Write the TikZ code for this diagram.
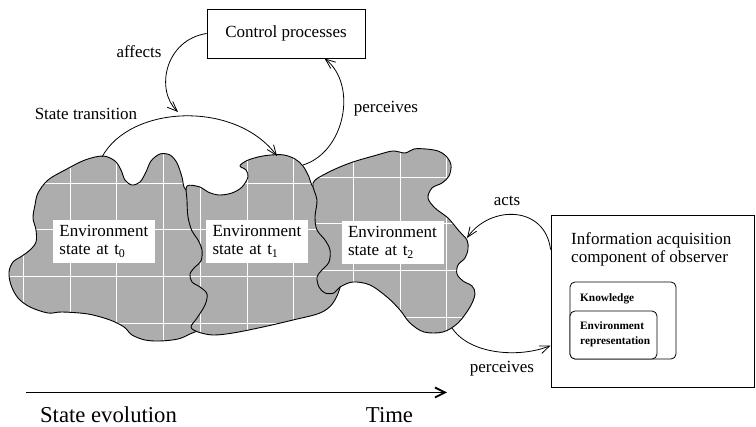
\documentclass[tikz,border=0pt]{standalone}
\usepackage{fontspec}
\setmainfont{Liberation Serif}
\usetikzlibrary{arrows.meta,calc}

% one environment state: grey fill, white grid, outline
% #1 = grid x offset, #2 = grid y offset, #3 = outline points
\newcommand\stateblob[3]{%
  \begin{scope}
    \clip plot[smooth cycle, tension=0.55] coordinates {#3};
    \fill[blobfill] (0,0) rectangle (756,427);
    \foreach \gx in {0,...,16}
      \draw[gridline] ({#1+46.7*\gx},0) -- ({#1+46.7*\gx},427);
    \foreach \gy in {0,...,9}
      \draw[gridline] (0,{#2+46.7*\gy}) -- (756,{#2+46.7*\gy});
  \end{scope}
  \draw[blobline] plot[smooth cycle, tension=0.55] coordinates {#3};
}

\begin{document}
\begin{tikzpicture}[x=1pt,y=-1pt,
  lbl/.style={font=\fontsize{17}{18.5}\selectfont, inner sep=0pt},
  big/.style={font=\fontsize{22.7}{26}\selectfont, inner sep=0pt},
  bx/.style={draw, line width=0.9pt},
  conn/.style={line width=0.8pt, -{Straight Barb[length=10pt,width=8pt]}},
  envlabel/.style={fill=white, align=left, text width=89pt, inner xsep=6.5pt,
    inner ysep=0pt, minimum height=43pt, font=\fontsize{17}{18}\selectfont},
  blobfill/.style={fill=black!32},
  gridline/.style={white, line width=0.8pt},
  blobline/.style={line width=0.9pt, line join=round},
  kbox/.style={draw, rounded corners=5pt, line width=0.8pt},
  ktext/.style={font=\fontsize{11.3}{14}\selectfont\bfseries, inner sep=0pt},
]
\useasboundingbox (0,0) rectangle (756,427);

% environment states at t0, t1, t2 (later ones overlap earlier ones)
\stateblob{23.3}{42.9}{(38,193) (48,180) (65,170) (85,160) (103,156) (115,161)
  (121,170) (125,180) (132,185) (140,182) (146,172) (151,161) (160,154) (170,155)
  (177,163) (182,177) (186,190) (205,196) (225,215) (228,300) (205,326) (190,334)
  (178,339) (160,341) (145,340) (132,335) (124,327) (110,320) (88,314) (62,312)
  (48,313) (30,307) (18,298) (11,285) (9,272) (13,262) (22,256) (30,250) (36,242)
  (36,230) (33,218) (35,205)}
\stateblob{13.5}{42.9}{(187,186) (200,187) (208,192) (219,195) (232,193) (242,187)
  (248,177) (246,170) (240,166) (246,161) (258,157) (271,155) (284,155) (295,159)
  (303,166) (309,177) (314,188) (335,205) (346,250) (341,284) (333,303) (320,313)
  (293,320) (263,327) (233,333) (213,335) (198,332) (191,327) (197,318) (205,305)
  (207,294) (200,287) (192,282) (190,274) (195,267) (201,261) (202,250) (198,240)
  (192,231) (188,217) (187,200)}
\stateblob{26.4}{36.9}{(313,183) (327,173) (350,163) (377,155) (393,151) (405,153)
  (414,149) (426,149) (438,151) (446,156) (451,165) (449,176) (442,183) (432,188)
  (428,198) (435,208) (448,218) (459,231) (467,240) (468,249) (465,258) (458,265)
  (457,274) (463,281) (472,286) (475,294) (470,307) (458,323) (443,332) (424,332)
  (410,323) (400,310) (387,297) (370,285) (353,282) (340,287) (334,293) (325,293)
  (319,287) (317,277) (322,270) (329,262) (330,250) (325,240) (317,230) (315,217)
  (317,200)}

% state labels
\node[envlabel] (e0) at (104,241.5) {Environment\\state at t\textsubscript{0}};
\node[envlabel] (e1) at (257,241.5) {Environment\\state at t\textsubscript{1}};
\node[envlabel] (e2) at (392.5,242.5) {Environment\\state at t\textsubscript{2}};

% contact points on the state outlines
\coordinate (s0top) at (102,157);
\coordinate (s1top) at (277,156);
\coordinate (s1out) at (303,165);
\coordinate (s2in) at (467,238);
\coordinate (s2out) at (452,328);

% boxes
\node[bx, minimum width=158pt, minimum height=49pt, inner sep=0pt] (cp) at (286,33.5) {};
\node[lbl] (cptext) at (cp) {Control processes};
\node[bx, minimum width=203.5pt, minimum height=172pt, inner sep=0pt] (info) at (652.75,301) {};
\node[lbl, anchor=base west] (info1) at (571,244.3) {Information acquisition};
\node[lbl, anchor=base west] (info2) at (571,262.7) {component of observer};
\node[kbox, minimum width=106pt, minimum height=77pt, inner sep=0pt] (know) at (623,320.5) {};
\node[kbox, fill=white, minimum width=87pt, minimum height=48pt, inner sep=0pt] (envrep) at (613.5,335) {};
\node[ktext, anchor=base west] (knowt) at (580,301.7) {Knowledge};
\node[ktext, anchor=base west] (envt1) at (580,330) {Environment};
\node[ktext, anchor=base west] (envt2) at (580,345) {representation};

% connectors
\draw[conn] (cp.west) .. controls (165,40) and (155,90) .. (178,112);
\draw[conn] (s0top) .. controls (130,105) and (235,100) .. (s1top);
\draw[conn] (s1out) .. controls (345,152) and (358,85) .. ($(cp.south west)+(118,0)$);
\draw[conn] ($(info.north west)+(0,35)$) .. controls (545,205) and (490,205) .. (s2in);
\draw[conn] (s2out) .. controls (470,355) and (520,358) .. ($(info.north west)+(0,131)$);

% connector labels
\node[lbl, anchor=base] (laff) at (139,57.5) {affects};
\node[lbl, anchor=base] (ltr) at (86,120) {State transition};
\node[lbl, anchor=base] (lper1) at (386,112.5) {perceives};
\node[lbl, anchor=base] (lacts) at (507,206) {acts};
\node[lbl, anchor=base] (lper2) at (502,372.5) {perceives};

% time axis
\coordinate (tstart) at (26,392.5);
\coordinate (tend) at (447,392.5);
\draw[line width=1.8pt, -{Straight Barb[length=10pt,width=10pt]}] (tstart) -- (tend);
\node[big, anchor=base] (evol) at (108.5,423) {State evolution};
\node[big, anchor=base] (time) at (389.5,423) {Time};
\end{tikzpicture}
\end{document}
